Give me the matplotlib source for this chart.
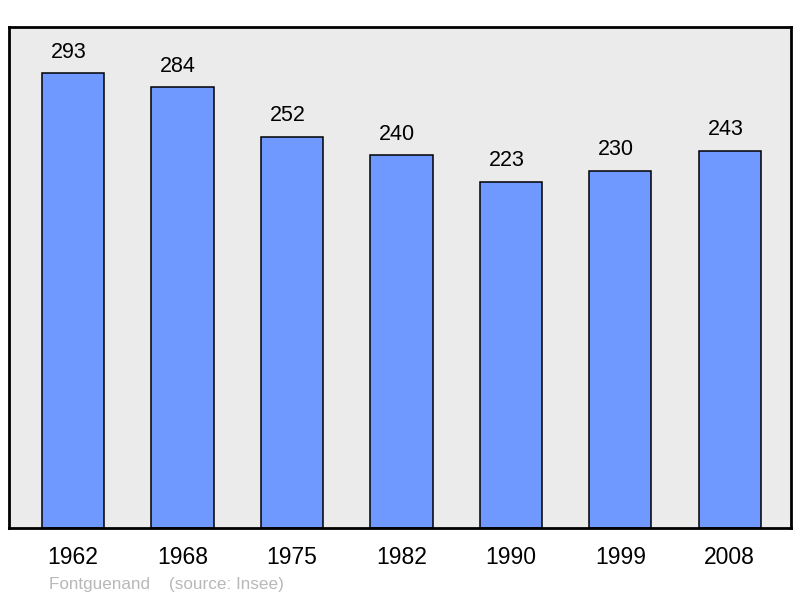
import matplotlib.pyplot as plt
import numpy as np

plt.rcParams['font.family'] = ['Liberation Sans', 'DejaVu Sans']

years = ['1962', '1968', '1975', '1982', '1990', '1999', '2008']
population = [293, 284, 252, 240, 223, 230, 243]
bar_color = '#7099ff'
bg_color = '#ebebeb'

fig = plt.figure(figsize=(8, 5.98), dpi=100)
ax = fig.add_axes([0.01125, 0.1171, 0.9775, 0.8377])
ax.set_facecolor(bg_color)

x = np.arange(len(years))
bars = ax.bar(x, population, width=0.57, color=bar_color, edgecolor='black', linewidth=1.1)

# value labels sit a bit left of the bar centre in the original
for xi, v in zip(x, population):
    ax.annotate(str(v), (xi, v), xytext=(-3, 7.5), textcoords='offset points',
                ha='center', va='bottom', fontsize=15.5)

ax.set_xlim(-0.585, 6.56)
ax.set_ylim(0, 322.6)
ax.set_xticks(x)
ax.set_xticklabels(years, fontsize=16.5)
ax.tick_params(axis='x', length=0, pad=13)
ax.set_yticks([])
for s in ax.spines.values():
    s.set_linewidth(2)

fig.text(49 / 800, 1 - 584 / 598, 'Fontguenand    (source: Insee)', color='#b8b8b8',
         fontsize=12.3, ha='left', va='center')

plt.savefig('out.png')
